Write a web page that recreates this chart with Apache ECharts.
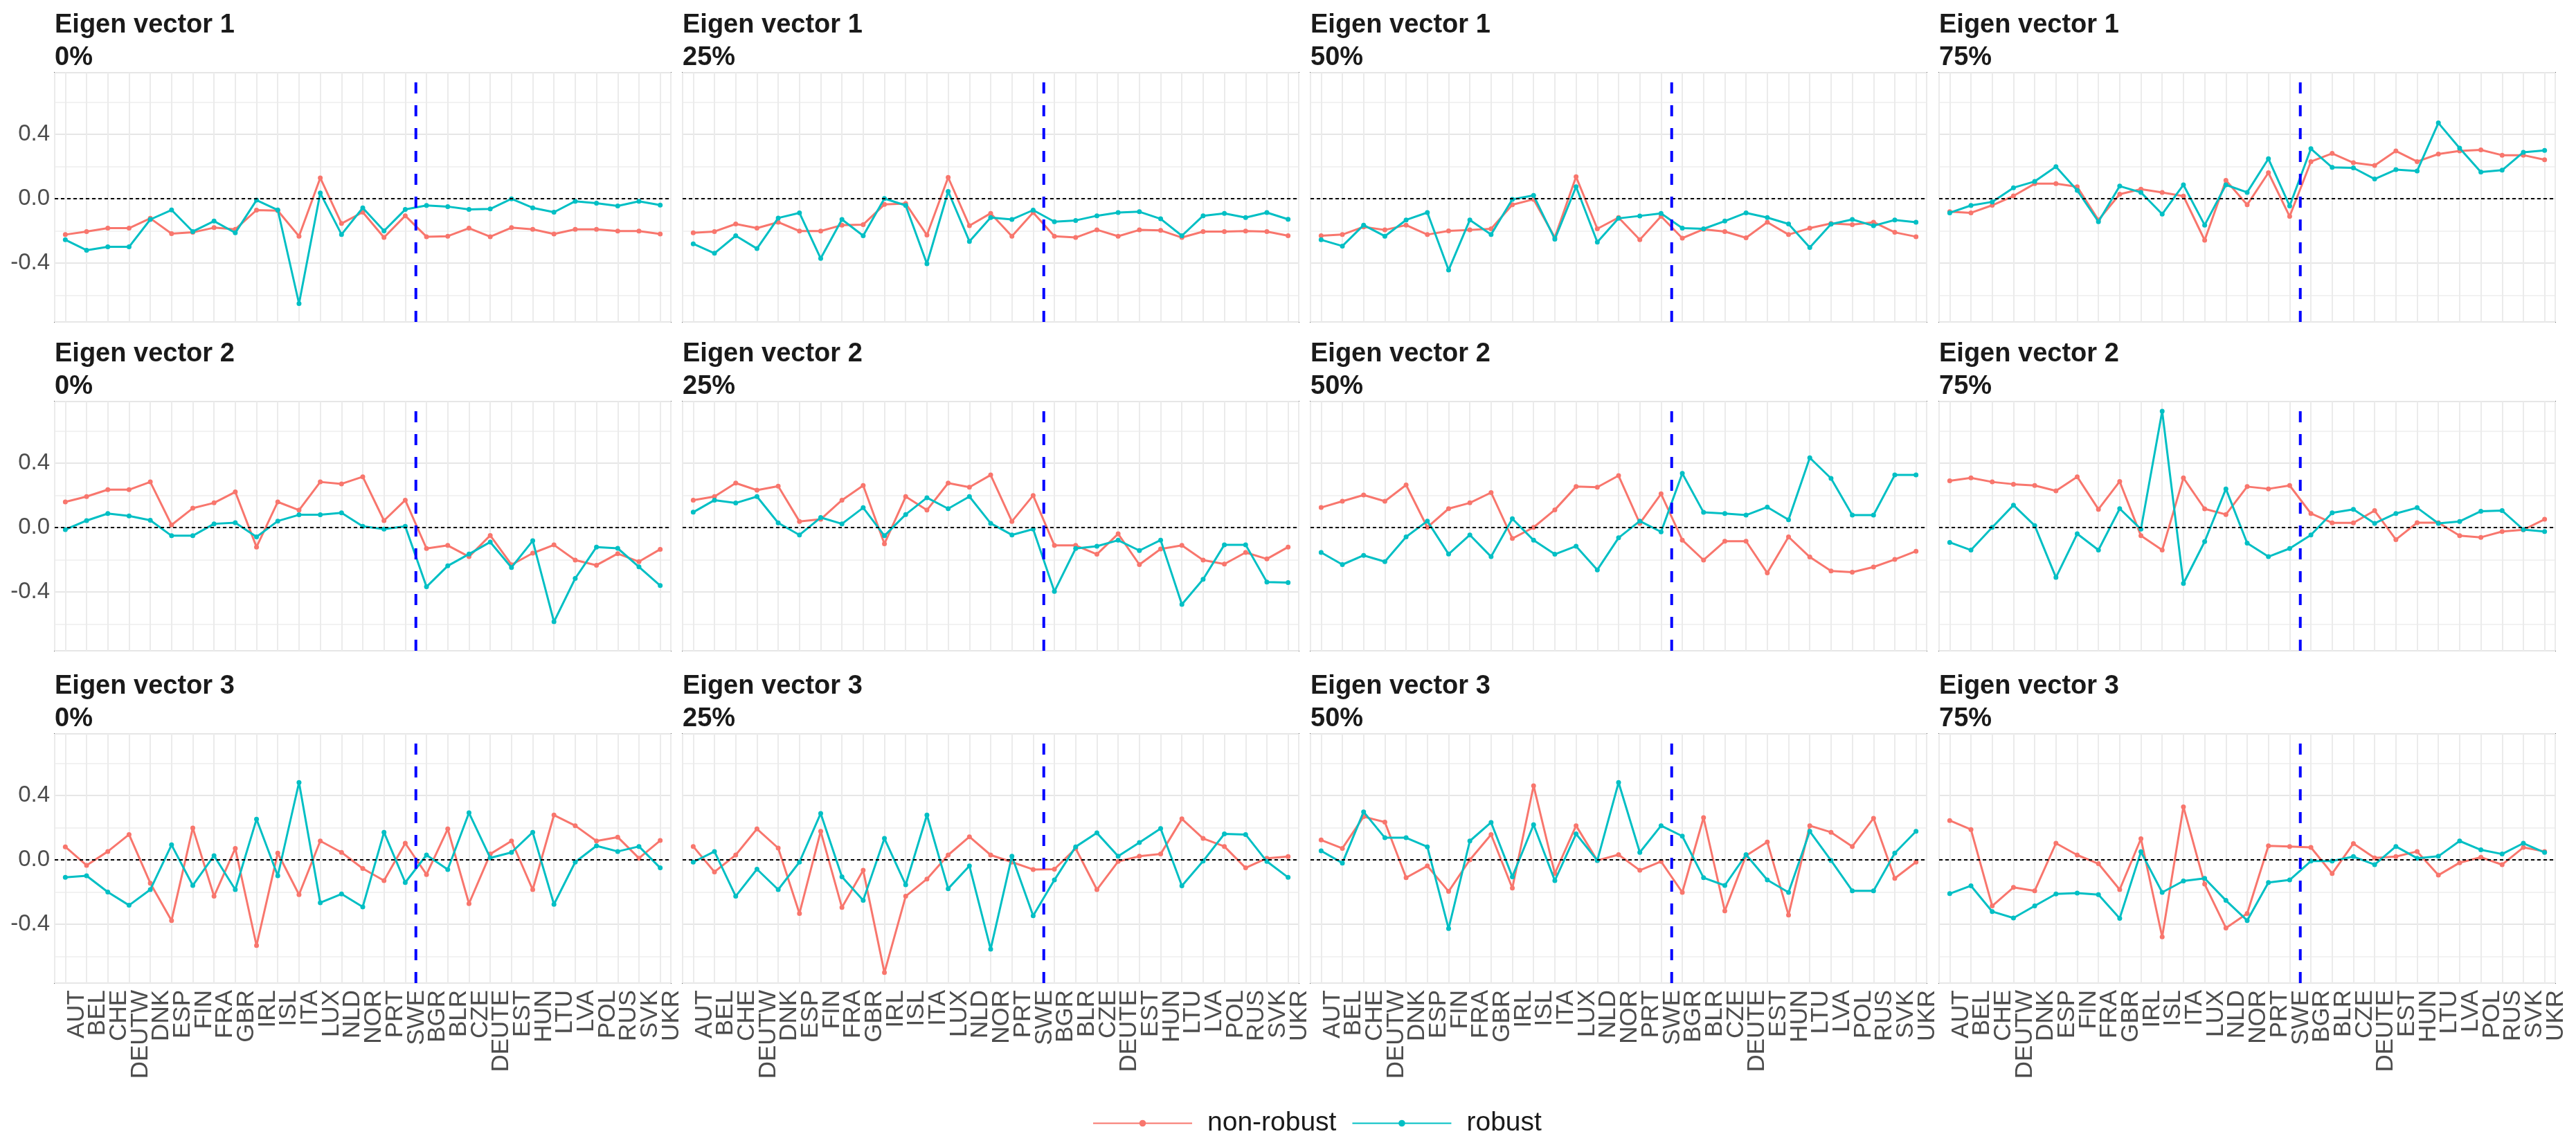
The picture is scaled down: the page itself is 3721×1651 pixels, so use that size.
<!DOCTYPE html>
<html><head><meta charset="utf-8">
<script src="https://cdn.jsdelivr.net/npm/echarts@6/dist/echarts.min.js"></script>
<style>html,body{margin:0;padding:0;background:#fff}#c{width:3721px;height:1651px}</style>
</head><body><div id="c"></div>
<script>
const categories = ['AUT','BEL','CHE','DEUTW','DNK','ESP','FIN','FRA','GBR','IRL','ISL','ITA','LUX','NLD','NOR','PRT','SWE','BGR','BLR','CZE','DEUTE','EST','HUN','LTU','LVA','POL','RUS','SVK','UKR'];
const eigenVectors = ['Eigen vector 1','Eigen vector 2','Eigen vector 3'];
const levels = ['0%','25%','50%','75%'];
const seriesNames = ['non-robust','robust'];
const westEnd = 'SWE';

const ev1_0_nonrobust = [-0.223,-0.204,-0.183,-0.183,-0.122,-0.217,-0.209,-0.180,-0.190,-0.071,-0.074,-0.233,0.129,-0.154,-0.084,-0.241,-0.106,-0.236,-0.233,-0.183,-0.236,-0.180,-0.190,-0.219,-0.190,-0.190,-0.201,-0.201,-0.219];
const ev1_0_robust = [-0.255,-0.320,-0.299,-0.299,-0.129,-0.070,-0.204,-0.139,-0.212,-0.009,-0.070,-0.651,0.035,-0.222,-0.057,-0.200,-0.067,-0.042,-0.049,-0.067,-0.064,-0.001,-0.057,-0.084,-0.016,-0.028,-0.045,-0.016,-0.040];
const ev1_25_nonrobust = [-0.212,-0.204,-0.157,-0.183,-0.146,-0.201,-0.201,-0.164,-0.161,-0.036,-0.030,-0.226,0.132,-0.168,-0.091,-0.233,-0.086,-0.233,-0.241,-0.193,-0.233,-0.194,-0.197,-0.241,-0.204,-0.204,-0.201,-0.204,-0.230];
const ev1_25_robust = [-0.280,-0.339,-0.230,-0.310,-0.120,-0.088,-0.371,-0.129,-0.230,0.001,-0.042,-0.404,0.045,-0.265,-0.117,-0.129,-0.071,-0.143,-0.135,-0.106,-0.086,-0.081,-0.125,-0.230,-0.106,-0.091,-0.117,-0.086,-0.128];
const ev1_50_nonrobust = [-0.230,-0.223,-0.175,-0.194,-0.164,-0.223,-0.200,-0.194,-0.187,-0.038,-0.004,-0.241,0.136,-0.187,-0.117,-0.255,-0.110,-0.245,-0.190,-0.204,-0.243,-0.146,-0.223,-0.183,-0.154,-0.161,-0.146,-0.209,-0.236];
const ev1_50_robust = [-0.255,-0.294,-0.164,-0.233,-0.132,-0.086,-0.443,-0.132,-0.222,-0.004,0.020,-0.251,0.074,-0.270,-0.122,-0.107,-0.091,-0.183,-0.187,-0.139,-0.088,-0.117,-0.157,-0.303,-0.158,-0.129,-0.168,-0.132,-0.146];
const ev1_75_nonrobust = [-0.081,-0.088,-0.041,0.017,0.093,0.093,0.074,-0.132,0.028,0.059,0.039,0.016,-0.258,0.114,-0.038,0.161,-0.110,0.230,0.281,0.223,0.206,0.296,0.230,0.277,0.296,0.303,0.270,0.270,0.242];
const ev1_75_robust = [-0.088,-0.042,-0.020,0.068,0.107,0.199,0.052,-0.143,0.078,0.039,-0.096,0.086,-0.164,0.086,0.039,0.248,-0.045,0.310,0.194,0.191,0.122,0.180,0.172,0.470,0.314,0.165,0.177,0.288,0.300];

const ev2_0_nonrobust = [0.159,0.192,0.235,0.235,0.283,0.016,0.120,0.153,0.221,-0.121,0.159,0.108,0.283,0.271,0.315,0.043,0.170,-0.130,-0.111,-0.181,-0.049,-0.231,-0.159,-0.108,-0.202,-0.234,-0.162,-0.212,-0.135];
const ev2_0_robust = [-0.013,0.043,0.087,0.072,0.045,-0.051,-0.051,0.023,0.030,-0.058,0.040,0.079,0.079,0.091,0.007,-0.010,0.007,-0.368,-0.238,-0.165,-0.090,-0.248,-0.082,-0.585,-0.316,-0.121,-0.129,-0.244,-0.360];
const ev2_25_nonrobust = [0.170,0.192,0.276,0.232,0.257,0.038,0.051,0.170,0.261,-0.101,0.192,0.108,0.276,0.250,0.326,0.038,0.199,-0.111,-0.111,-0.166,-0.039,-0.230,-0.133,-0.111,-0.202,-0.227,-0.155,-0.195,-0.121];
const ev2_25_robust = [0.095,0.170,0.152,0.192,0.029,-0.046,0.062,0.023,0.123,-0.051,0.081,0.185,0.117,0.192,0.026,-0.046,-0.010,-0.397,-0.130,-0.116,-0.079,-0.143,-0.078,-0.477,-0.321,-0.107,-0.107,-0.338,-0.342];
const ev2_50_nonrobust = [0.124,0.163,0.202,0.163,0.264,0.001,0.117,0.153,0.217,-0.068,0.001,0.110,0.254,0.250,0.322,0.026,0.209,-0.078,-0.202,-0.085,-0.085,-0.282,-0.058,-0.183,-0.270,-0.277,-0.245,-0.198,-0.147];
const ev2_50_robust = [-0.155,-0.230,-0.173,-0.212,-0.058,0.040,-0.165,-0.046,-0.181,0.055,-0.079,-0.166,-0.116,-0.263,-0.064,0.040,-0.027,0.336,0.094,0.087,0.077,0.127,0.048,0.433,0.305,0.077,0.077,0.326,0.326];
const ev2_75_nonrobust = [0.290,0.308,0.283,0.269,0.261,0.228,0.315,0.113,0.286,-0.051,-0.140,0.308,0.116,0.081,0.254,0.240,0.261,0.087,0.029,0.029,0.105,-0.075,0.030,0.030,-0.051,-0.061,-0.025,-0.014,0.051];
const ev2_75_robust = [-0.092,-0.140,0.001,0.139,0.012,-0.310,-0.039,-0.140,0.117,-0.010,0.722,-0.347,-0.087,0.240,-0.097,-0.181,-0.130,-0.046,0.091,0.113,0.026,0.087,0.123,0.026,0.038,0.101,0.105,-0.013,-0.025];

const ev3_0_nonrobust = [0.081,-0.034,0.052,0.157,-0.145,-0.377,0.198,-0.226,0.071,-0.532,0.042,-0.216,0.117,0.046,-0.054,-0.129,0.103,-0.091,0.192,-0.272,0.036,0.117,-0.185,0.278,0.212,0.117,0.141,0.010,0.120];
const ev3_0_robust = [-0.109,-0.099,-0.200,-0.282,-0.185,0.093,-0.159,0.026,-0.185,0.252,-0.099,0.480,-0.266,-0.212,-0.292,0.171,-0.141,0.030,-0.060,0.292,0.012,0.046,0.171,-0.276,-0.014,0.087,0.052,0.083,-0.050];
const ev3_25_nonrobust = [0.083,-0.075,0.030,0.192,0.073,-0.333,0.177,-0.296,-0.065,-0.700,-0.226,-0.119,0.030,0.143,0.030,-0.014,-0.060,-0.058,0.071,-0.185,-0.010,0.022,0.036,0.254,0.133,0.083,-0.050,0.010,0.020];
const ev3_25_robust = [-0.014,0.052,-0.226,-0.058,-0.185,-0.014,0.288,-0.105,-0.252,0.133,-0.155,0.278,-0.179,-0.038,-0.554,0.022,-0.347,-0.125,0.081,0.167,0.022,0.107,0.194,-0.161,-0.008,0.161,0.157,-0.010,-0.109];
const ev3_50_nonrobust = [0.123,0.071,0.268,0.234,-0.111,-0.038,-0.196,0.000,0.157,-0.175,0.460,-0.085,0.212,-0.004,0.032,-0.065,-0.010,-0.202,0.262,-0.317,0.026,0.111,-0.343,0.212,0.171,0.083,0.258,-0.115,-0.014];
const ev3_50_robust = [0.056,-0.020,0.298,0.137,0.137,0.081,-0.427,0.117,0.232,-0.105,0.218,-0.129,0.161,-0.004,0.480,0.046,0.212,0.147,-0.111,-0.159,0.032,-0.125,-0.202,0.177,-0.004,-0.192,-0.192,0.042,0.177];
const ev3_75_nonrobust = [0.244,0.188,-0.286,-0.171,-0.192,0.103,0.030,-0.024,-0.185,0.131,-0.478,0.329,-0.151,-0.423,-0.333,0.087,0.083,0.077,-0.085,0.101,0.012,0.020,0.052,-0.095,-0.018,0.016,-0.030,0.077,0.052];
const ev3_75_robust = [-0.210,-0.161,-0.321,-0.361,-0.286,-0.212,-0.206,-0.216,-0.363,0.050,-0.202,-0.131,-0.115,-0.252,-0.377,-0.141,-0.125,-0.008,-0.008,0.020,-0.030,0.083,0.010,0.022,0.117,0.062,0.036,0.103,0.046];

const panelData = [
  [[ev1_0_nonrobust, ev1_0_robust],[ev1_25_nonrobust, ev1_25_robust],[ev1_50_nonrobust, ev1_50_robust],[ev1_75_nonrobust, ev1_75_robust]],
  [[ev2_0_nonrobust, ev2_0_robust],[ev2_25_nonrobust, ev2_25_robust],[ev2_50_nonrobust, ev2_50_robust],[ev2_75_nonrobust, ev2_75_robust]],
  [[ev3_0_nonrobust, ev3_0_robust],[ev3_25_nonrobust, ev3_25_robust],[ev3_50_nonrobust, ev3_50_robust],[ev3_75_nonrobust, ev3_75_robust]]
];

const FONT = "'Liberation Sans', Arial, sans-serif";
const COLORS = ['#F8766D', '#00BFC4'];
const colLeft = [79, 986, 1893, 2801];
const panelW = 890;
const rowTop = [105, 580, 1060];
const panelH = 360;
const Y_MIN = -0.765, Y_MAX = 0.782;
const splitPos = categories.indexOf(westEnd) + 0.5;

const grids = [], xAxes = [], yAxes = [], series = [], titles = [];
for (let r = 0; r < 3; r++) {
  for (let c = 0; c < 4; c++) {
    const k = r * 4 + c;
    grids.push({left: colLeft[c], top: rowTop[r], width: panelW, height: panelH, show: true,
      borderColor: '#6a6a6a', borderWidth: 2, backgroundColor: 'rgba(0,0,0,0)', containLabel: false, outerBoundsMode: 'none'});
    titles.push({text: eigenVectors[r] + '\n' + levels[c], left: colLeft[c], top: rowTop[r] - 92, padding: 0,
      textStyle: {fontFamily: FONT, fontSize: 38, fontWeight: 'bold', color: '#1a1a1a', lineHeight: 47}});
    xAxes.push({type: 'category', gridIndex: k, data: categories, boundaryGap: true,
      axisLine: {show: false}, axisTick: {show: false}, splitLine: {show: false},
      axisLabel: r === 2 ? {show: true, interval: 0, rotate: 90, fontSize: 35, color: '#4d4d4d', fontFamily: FONT,
        margin: 10, verticalAlign: 'top', lineHeight: 33} : {show: false}});
    xAxes.push({type: 'value', gridIndex: k, min: -0.5, max: categories.length - 0.5, splitNumber: categories.length,
      axisLine: {show: false}, axisTick: {show: false}, axisLabel: {show: false},
      splitLine: {show: true, lineStyle: {color: '#ebebeb', width: 2}}});
    yAxes.push({type: 'value', gridIndex: k, min: Y_MIN, max: Y_MAX, splitNumber: 8,
      axisLine: {show: false}, axisTick: {show: false},
      axisLabel: c === 0 ? {show: true, fontSize: 33, color: '#4d4d4d', fontFamily: FONT, margin: 7,
        formatter: function (v) { const t = Math.round(v * 10); return (Math.abs(v * 10 - t) < 1e-6 && t % 4 === 0 && Math.abs(t) <= 4) ? (t / 10).toFixed(1) : ''; }} : {show: false},
      splitLine: {show: true, lineStyle: {color: ['#e6e6e6', '#f2f2f2'], width: 2}}});
    const pd = panelData[r][c];
    for (let s = 0; s < 2; s++) {
      const ser = {type: 'line', name: seriesNames[s], xAxisIndex: 2 * k, yAxisIndex: k, data: pd[s],
        symbol: 'circle', symbolSize: 7, showSymbol: true, z: 3 + s,
        itemStyle: {color: COLORS[s]}, lineStyle: {color: COLORS[s], width: 3}, emphasis: {disabled: true}};
      if (s === 1) {
        ser.markLine = {silent: true, symbol: ['none', 'none'], label: {show: false},
          lineStyle: {color: '#000000', type: [5, 4], width: 2}, data: [{yAxis: 0}]};
      }
      series.push(ser);
    }
    series.push({type: 'line', name: 'split', xAxisIndex: 2 * k + 1, yAxisIndex: k,
      data: [[splitPos, Y_MIN], [splitPos, Y_MAX]], symbol: 'none', silent: true, z: 6,
      lineStyle: {color: '#0000ff', width: 4, type: [16, 17]}, emphasis: {disabled: true}});
  }
}

const chart = echarts.init(document.getElementById('c'), null, {renderer: 'canvas'});
chart.setOption({
  animation: false,
  backgroundColor: '#ffffff',
  title: titles,
  grid: grids,
  xAxis: xAxes,
  yAxis: yAxes,
  legend: {data: seriesNames, left: 1573, top: 1598, orient: 'horizontal', itemWidth: 143, itemHeight: 12, itemGap: 22,
    textStyle: {fontFamily: FONT, fontSize: 39, color: '#1a1a1a', padding: [0, 0, 0, 17]}},
  series: series
});
</script>
</body></html>
